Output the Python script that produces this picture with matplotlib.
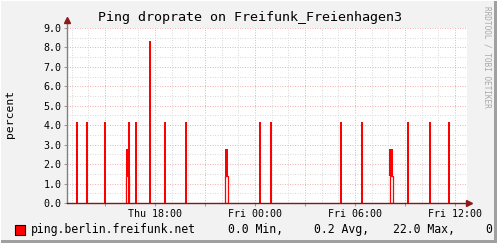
import matplotlib
matplotlib.use("Agg")
import matplotlib.pyplot as plt
from matplotlib.patches import Rectangle

# hours counted from Thu 00:00
spike_t = [13.32, 13.92, 15.0, 16.44, 16.86, 17.70, 18.60, 19.86,
           24.30, 24.96, 29.16, 30.42, 33.18, 34.50, 35.64]
spike_v = [4.17, 4.17, 4.17, 4.17, 4.17, 8.33, 4.17, 4.17,
           4.17, 4.17, 4.17, 4.17, 4.17, 4.17, 4.17]

# narrow columns that are partly filled and partly hollow
part_t = [16.36, 22.29, 32.18]
part_hi = [2.78, 2.78, 2.78]
part_lo = [1.39, 1.39, 1.39]

tick_hours = [18, 24, 30, 36]
tick_labels = ["Thu 18:00", "Fri 00:00", "Fri 06:00", "Fri 12:00"]

legend_name = "ping.berlin.freifunk.net"
legend_stats = ["0.0 Min,", "0.2 Avg,", "22.0 Max,", "0.0 Last"]
legend_x = [228, 314, 393, 486]

W, H = 497, 243
mono = "DejaVu Sans Mono"


def main():
    fig = plt.figure(figsize=(W / 100, H / 100), dpi=100)
    fig.patch.set_facecolor("#F2F2F2")

    ax = fig.add_axes([67 / W, (H - 203) / H, 400 / W, 175 / H])
    ax.set_facecolor("white")
    x0 = 18 - 88 / (100 / 6)
    ax.set_xlim(x0, x0 + 24)
    ax.set_ylim(0, 9)

    # grid
    ax.set_xticks([h for h in range(13, 37) if h % 3 == 0])
    ax.set_xticks(range(13, 37), minor=True)
    ax.set_xticklabels([tick_labels[tick_hours.index(h)] if h in tick_hours else ""
                        for h in range(15, 37, 3)])
    ax.set_yticks(range(0, 10))
    ax.set_yticklabels(["%.1f" % v for v in range(0, 10)])
    ax.set_yticks([v + 0.5 for v in range(9)], minor=True)
    ax.grid(which="minor", color="#DADADA", linestyle=(0, (1, 1.5)), linewidth=0.72)
    ax.grid(which="major", color="#EEB4B4", linestyle=(0, (1, 1.5)), linewidth=0.72)
    ax.set_axisbelow(True)

    for s in ax.spines.values():
        s.set_visible(False)
    ax.tick_params(which="major", length=2, width=0.7, color="#999999",
                   labelsize=7.2, pad=2)
    ax.tick_params(which="minor", length=0)
    for lab in ax.get_xticklabels() + ax.get_yticklabels():
        lab.set_family(mono)

    # data
    ax.bar(part_t, part_lo, width=0.17, facecolor="white", edgecolor="red",
           linewidth=0.9, zorder=3)
    ax.bar(part_t, [h - l for h, l in zip(part_hi, part_lo)], bottom=part_lo,
           width=0.22, color="red", linewidth=0, zorder=3)
    ax.bar(spike_t, spike_v, width=0.12, color="red", linewidth=0, zorder=4)

    # axes with arrows
    ax.plot([0, 0], [0, 1.04], transform=ax.transAxes, color="#808080",
            lw=1, clip_on=False, zorder=5)
    ax.plot([0, 1.0], [0, 0], transform=ax.transAxes, color="#7A1A1A",
            lw=1, clip_on=False, zorder=5)
    ax.plot([0], [1.045], marker="^", ms=4, color="#8B1A1A",
            transform=ax.transAxes, clip_on=False, zorder=6)
    ax.plot([1.005], [0], marker=">", ms=4, color="#8B1A1A",
            transform=ax.transAxes, clip_on=False, zorder=6)

    # texts
    fig.text(250 / W, 1 - 18 / H, "Ping droprate on Freifunk_Freienhagen3",
             family=mono, fontsize=9.6, ha="center", va="center")
    fig.text(10 / W, 1 - 114 / H, "percent", family=mono, fontsize=8.2,
             rotation=90, ha="center", va="center")
    fig.text(487 / W, 1 - 6 / H, "RRDTOOL / TOBI OETIKER", family=mono,
             fontsize=5.6, rotation=270, ha="center", va="top", color="#A8A8A8")

    fig.add_artist(Rectangle((15 / W, 1 - 235 / H), 10 / W, 10 / H,
                             transform=fig.transFigure, facecolor="red",
                             edgecolor="black", linewidth=0.8))
    fig.text(31 / W, 1 - 229.5 / H, legend_name, family=mono, fontsize=8.3,
             ha="left", va="center")
    for xp, s in zip(legend_x, legend_stats):
        fig.text(xp / W, 1 - 229.5 / H, s, family=mono, fontsize=8.3,
                 ha="left", va="center")

    # frame
    fig.add_artist(Rectangle((494 / W, 0), 3 / W, 1, transform=fig.transFigure,
                             facecolor="#A0A0A0", edgecolor="none", zorder=10))
    fig.add_artist(Rectangle((0, 0), 1, 3 / H, transform=fig.transFigure,
                             facecolor="#A0A0A0", edgecolor="none", zorder=10))
    fig.add_artist(Rectangle((0, 0), 1 / W, 1, transform=fig.transFigure,
                             facecolor="#FFFFFF", edgecolor="none", zorder=10))
    fig.add_artist(Rectangle((0, 1 - 1 / H), 1, 1 / H, transform=fig.transFigure,
                             facecolor="#FFFFFF", edgecolor="none", zorder=10))

    fig.savefig("out.png", dpi=100, facecolor=fig.get_facecolor())


if __name__ == "__main__":
    main()
